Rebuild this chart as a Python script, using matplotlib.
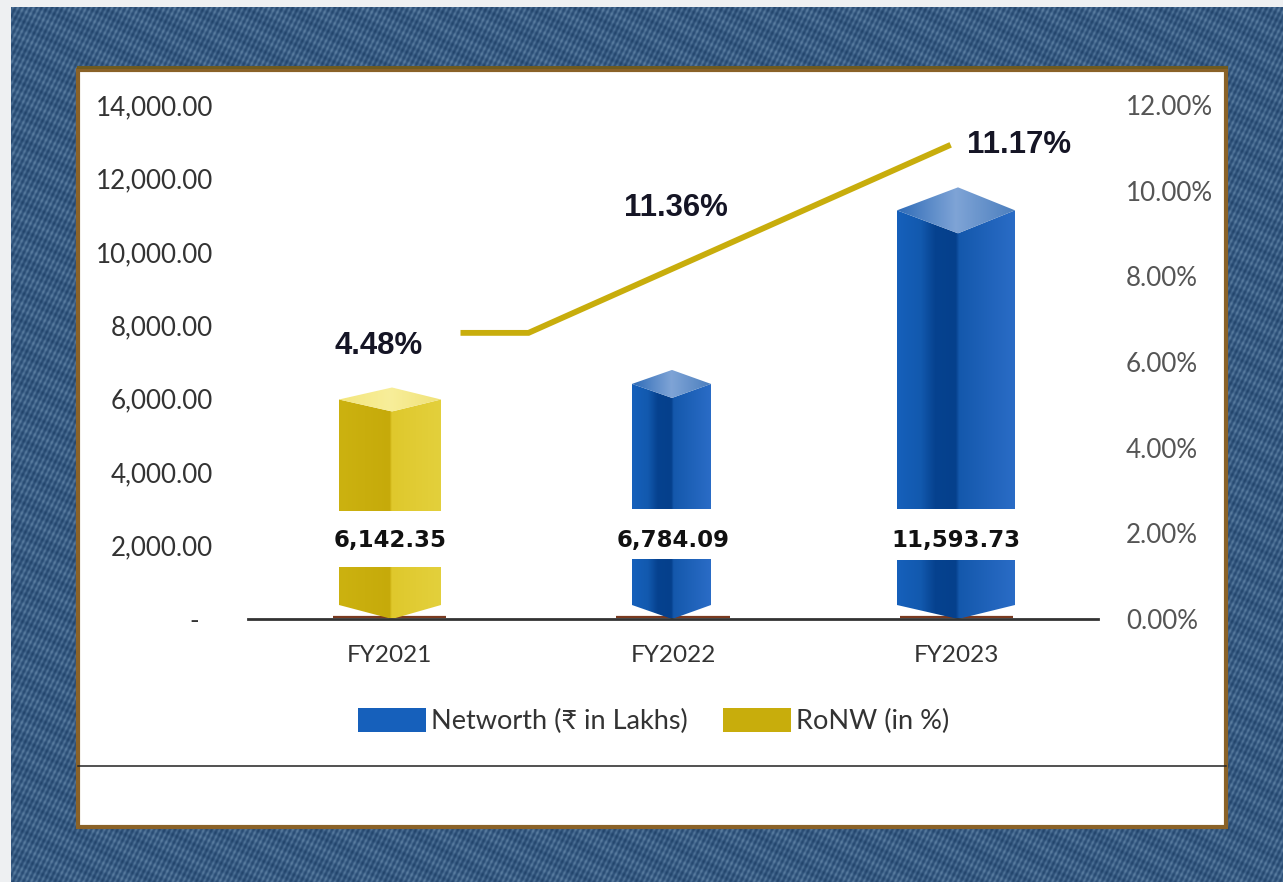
import numpy as np
import matplotlib
matplotlib.use("Agg")
import matplotlib.pyplot as plt
from matplotlib.patches import Polygon, Patch, Rectangle
from matplotlib.lines import Line2D
from matplotlib.colors import LinearSegmentedColormap

W, H = 1283, 882

# donnees
years = ["FY2021", "FY2022", "FY2023"]
networth = [6142.35, 6784.09, 11593.73]
networth_labels = ["6,142.35", "6,784.09", "11,593.73"]
ronw_x = [0.25, 0.49, 1.98]
ronw_drawn = [6.68, 6.68, 11.07]
ronw_labels = ["4.48%", "11.36%", "11.17%"]
ronw_label_x = [-0.04, 1.01, 2.22]
ronw_label_y = [6.37, 9.60, 11.07]
left_ticks = [0, 2000, 4000, 6000, 8000, 10000, 12000, 14000]
left_labels = ["-  ", "2,000.00", "4,000.00", "6,000.00", "8,000.00", "10,000.00", "12,000.00", "14,000.00"]
right_ticks = [0, 2, 4, 6, 8, 10, 12]
right_labels = ["0.00%", "2.00%", "4.00%", "6.00%", "8.00%", "10.00%", "12.00%"]

# geometrie des barres, en pixels de l'image
bar_left = [339, 632, 897]
bar_right = [441, 711, 1015]
bar_tip = [392, 672, 958]
bar_apex_shift = [6, 0, 6]
bar_cap = [12, 14, 23]
gap_top = [511, 509, 509]
gap_bottom = [567, 559, 560]

BLUE = [(0, "#1660bb"), (0.2, "#1259ae"), (0.32, "#06428f"), (0.5, "#05408c"), (0.53, "#1458ac"), (1, "#2a6cc6")]
BLUE_TOP = ["#2f6cb8", "#7fa4d6", "#4c7fbe"]
GOLD = [(0, "#ccb210"), (0.5, "#c6aa0a"), (0.52, "#dfc82c"), (1, "#e3d03c")]
GOLD_TOP = ["#f3e67c", "#f8ee9a", "#f0e278"]
bar_cols = [GOLD, BLUE, BLUE]
top_cols = [GOLD_TOP, BLUE_TOP, BLUE_TOP]

plt.rcParams["font.family"] = ["Lato", "DejaVu Sans"]

fig = plt.figure(figsize=(W / 100, H / 100), dpi=100, facecolor="#eef0f2")


def fig_rect(x0, y0, x1, y1):
    # pixels (origine en haut) -> coordonnees figure
    return [x0 / W, 1 - y1 / H, (x1 - x0) / W, (y1 - y0) / H]


# fond jean : trame diagonale
bg = fig.add_axes(fig_rect(11, 7, W, H), zorder=-3)
bg.axis("off")
yy, xx = np.mgrid[0:H - 7, 0:W - 11]
weave = np.sin(xx * 1.2 + yy * 0.6) * 0.6 + np.sin(xx * 0.4 - yy * 0.9) * 0.25 + np.sin(xx * 0.13 - yy * 0.21) * 0.2
denim = LinearSegmentedColormap.from_list("denim", ["#22446b", "#365a82", "#5a7da0"])
bg.imshow(weave, cmap=denim, aspect="auto", interpolation="bilinear")

# panneau blanc et cadre
x0, y0, w, h = fig_rect(78, 70, 1226, 827)
fig.add_artist(Rectangle((x0, y0), w, h, transform=fig.transFigure, facecolor="white",
                         edgecolor="#8a6228", linewidth=3, zorder=-2))
x0, y0, w, h = fig_rect(77, 66, 1228, 69)
fig.add_artist(Rectangle((x0, y0), w, h, transform=fig.transFigure, facecolor="#6e5a20", edgecolor="none", zorder=-1))
fig.add_artist(Line2D([78 / W, 1226 / W], [1 - 766 / H, 1 - 766 / H], color="#222222", linewidth=1.1, zorder=-1))

ax = fig.add_axes(fig_rect(248, 105, 1098, 619))
ax.patch.set_alpha(0)
ax.set_xlim(-0.5, 2.5)
ax.set_ylim(0, 14000)

X = lambda px: (px - 248) / 850 * 3 - 0.5
Y = lambda py: (619 - py) / 514 * 14000


def face(poly, colors, x_a, x_b, y_a, y_b):
    cmap = LinearSegmentedColormap.from_list("f", colors)
    im = ax.imshow(np.linspace(0, 1, 128)[None, :], cmap=cmap, aspect="auto",
                   extent=[x_a, x_b, y_a, y_b], zorder=2)
    im.set_clip_path(Polygon(poly, transform=ax.transData))


for i in range(3):
    xl, xr, xt = bar_left[i], bar_right[i], bar_tip[i]
    apex = networth[i] + Y(619 - bar_apex_shift[i])
    cap = bar_cap[i] * 14000 / 514
    side = apex - cap
    tip = side - cap
    bottom = Y(605)
    body = [(X(xl), bottom), (X(xl), side), (X(xt), tip), (X(xr), side), (X(xr), bottom), (X(xt), 0)]
    face(body, bar_cols[i], X(xl), X(xr), 0, apex)
    top = [(X(xl), side), (X(xt), apex), (X(xr), side), (X(xt), tip)]
    face(top, top_cols[i], X(xl), X(xr), tip, apex)
    ax.add_patch(Rectangle((X(xl - 3), Y(gap_bottom[i])), X(xr + 3) - X(xl - 3),
                           Y(gap_top[i]) - Y(gap_bottom[i]), facecolor="white", edgecolor="none", zorder=3))
    ax.text(i, Y(540), networth_labels[i], ha="center", va="center", fontsize=16.5, fontweight="bold",
            family=["DejaVu Sans"], color="#111111", zorder=4)
    ax.hlines(45, i - 0.2, i + 0.2, color="#7a3a20", linewidth=1.6, zorder=1)

ax.set_xlim(-0.5, 2.5)
ax.set_ylim(0, 14000)
ax.set_xticks(range(3), years)
ax.set_yticks(left_ticks, left_labels)
ax.tick_params(axis="x", length=0, pad=19, labelsize=17.5, labelcolor="#333333")
ax.tick_params(axis="y", length=0, pad=25, labelsize=18.7, labelcolor="#333333")
for s in ["top", "left", "right"]:
    ax.spines[s].set_visible(False)
ax.spines["bottom"].set_color("#333333")
ax.spines["bottom"].set_linewidth(2)
ax.spines["bottom"].set_zorder(5)

ax2 = ax.twinx()
ax2.patch.set_alpha(0)
ax2.set_ylim(0, 12)
ax2.plot(ronw_x, ronw_drawn, color="#c8ad0c", linewidth=4.2, solid_capstyle="butt", solid_joinstyle="miter")
for lx, ly, lab in zip(ronw_label_x, ronw_label_y, ronw_labels):
    ax2.text(lx, ly, lab, ha="center", va="center", fontsize=22.4, fontweight="bold",
             family=["Liberation Sans"], color="#151525")
ax2.set_yticks(right_ticks, right_labels)
ax2.tick_params(axis="y", length=0, pad=20, labelsize=18.7, labelcolor="#555555")
for s in ax2.spines.values():
    s.set_visible(False)

handles = [Patch(facecolor="#1660bb"), Patch(facecolor="#c8ad0c")]
fig.legend(handles, ["Networth (₹ in Lakhs)", "RoNW (in %)"], ncol=2, frameon=False, fontsize=19.5,
           loc="center", bbox_to_anchor=(654 / W, 1 - 721 / H), handlelength=2.5, handleheight=1.0,
           handletextpad=0.2, columnspacing=1.3, labelcolor="#333333", borderpad=0, borderaxespad=0)

fig.savefig("out.png", dpi=100, facecolor=fig.get_facecolor())
